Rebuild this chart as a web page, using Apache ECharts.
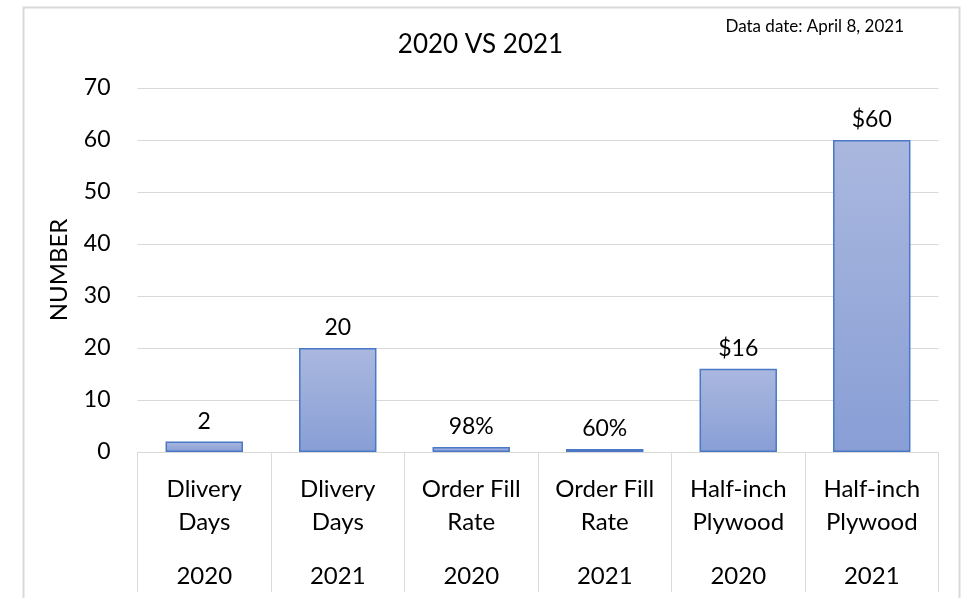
<!DOCTYPE html>
<html>
<head>
<meta charset="utf-8">
<script src="https://cdn.jsdelivr.net/npm/echarts@6/dist/echarts.min.js"></script>
<style>
html,body{margin:0;padding:0;background:#fff;}
#chart{width:961px;height:598px;}
</style>
</head>
<body>
<div id="chart"></div>
<script>
const itemNames = ['Dlivery\nDays', 'Dlivery\nDays', 'Order Fill\nRate', 'Order Fill\nRate', 'Half-inch\nPlywood', 'Half-inch\nPlywood'];
const years = ['2020', '2021', '2020', '2021', '2020', '2021'];
const values = [2, 20, 0.98, 0.6, 16, 60];
const valueLabels = ['2', '20', '98%', '60%', '$16', '$60'];
const yTicks = [0, 10, 20, 30, 40, 50, 60, 70];

const FONT = 'Lato, "Noto Sans", sans-serif';
const chart = echarts.init(document.getElementById('chart'));
chart.setOption({
  backgroundColor: '#fff',
  animation: false,
  textStyle: { fontFamily: FONT, color: '#000' },
  title: [
    { text: '2020 VS 2021', left: 'center', top: 27, textStyle: { fontFamily: FONT, fontSize: 26, fontWeight: 'normal', color: '#000' } },
    { text: 'Data date: April 8, 2021', right: 52, top: 13, textStyle: { fontFamily: FONT, fontSize: 17, fontWeight: 'normal', color: '#000' } }
  ],
  graphic: [{
    type: 'rect', left: 21, top: 5, silent: true,
    shape: { width: 936, height: 620 },
    style: { fill: 'none', stroke: '#D9D9D9', lineWidth: 2 }
  }],
  grid: { left: 137.5, right: 22.5, top: 88, bottom: 146 },
  xAxis: {
    type: 'category',
    data: itemNames,
    axisLine: { show: true, lineStyle: { color: '#D9D9D9', width: 1 } },
    axisTick: { show: true, length: 140, lineStyle: { color: '#D9D9D9', width: 1 } },
    axisLabel: {
      margin: 21,
      interval: 0,
      formatter: function (v, i) {
        return v.split('\n').map(s => '{a|' + s + '}').join('\n') + '\n{g|}\n{y|' + years[i] + '}';
      },
      rich: {
        a: { fontFamily: FONT, fontSize: 24, lineHeight: 33, color: '#000' },
        g: { fontSize: 10, lineHeight: 21 },
        y: { fontFamily: FONT, fontSize: 24, lineHeight: 33, color: '#000' }
      }
    }
  },
  yAxis: {
    type: 'value',
    min: yTicks[0], max: yTicks[yTicks.length - 1], interval: 10,
    name: 'NUMBER', nameLocation: 'middle', nameGap: 66, nameRotate: 90,
    nameTextStyle: { fontFamily: FONT, fontSize: 24, color: '#000' },
    axisLine: { show: false },
    axisTick: { show: false },
    axisLabel: { fontFamily: FONT, fontSize: 23, color: '#000', margin: 27 },
    splitLine: { lineStyle: { color: '#D9D9D9', width: 1 } }
  },
  series: [{
    type: 'bar',
    data: values,
    barWidth: '58%',
    itemStyle: {
      color: new echarts.graphic.LinearGradient(0, 0, 0, 1, [
        { offset: 0, color: '#AAB8DF' },
        { offset: 1, color: '#889ED5' }
      ]),
      borderColor: '#4A78C6',
      borderWidth: 1.5
    },
    label: {
      show: true, position: 'top', distance: 9,
      fontFamily: FONT, fontSize: 23, color: '#000',
      formatter: p => valueLabels[p.dataIndex]
    }
  }]
});
</script>
</body>
</html>
